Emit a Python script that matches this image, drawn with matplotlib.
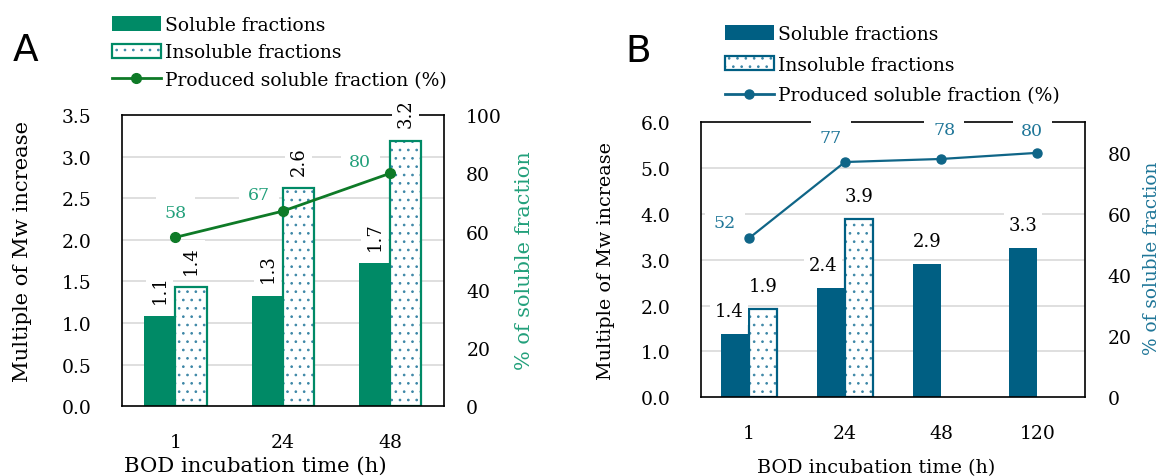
import numpy as np
import matplotlib
matplotlib.use("Agg")
import matplotlib.pyplot as plt
from matplotlib.patches import Patch
from matplotlib.lines import Line2D
from matplotlib.legend_handler import HandlerTuple

# ---------------- data ----------------
cats_a = ["1", "24", "48"]
soluble_a = [1.08, 1.33, 1.72]
insoluble_a = [1.43, 2.62, 3.19]
pct_a = [58, 67, 80]
sol_lbl_a = ["1.1", "1.3", "1.7"]
ins_lbl_a = ["1.4", "2.6", "3.2"]

cats_b = ["1", "24", "48", "120"]
soluble_b = [1.38, 2.39, 2.91, 3.25]
insoluble_b = [1.92, 3.89]          # only first two times measured
pct_b = [52, 77, 78, 80]
sol_lbl_b = ["1.4", "2.4", "2.9", "3.3"]
ins_lbl_b = ["1.9", "3.9"]

W, H = 1161, 477
plt.rcParams['font.family'] = ['DejaVu Serif']
plt.rcParams['hatch.linewidth'] = 0.7
fig = plt.figure(figsize=(W / 100, H / 100), dpi=100)

PX = 0.72  # points per pixel


def fx(x):
    return x / W


def fy(y):
    return 1 - y / H


def panel(rect, cats, sol, ins, pct, sol_lbl, ins_lbl, ylim, yticks, yfmt,
          rlim, rticks, c_bar, c_dot, c_line, c_lbl, line_off, sol_off,
          rotate, lbl_gap, lw_line, ms):
    l, t, r, b = rect
    ax = fig.add_axes([fx(l), fy(b), fx(r - l), (b - t) / H])
    n = len(cats)
    x = np.arange(n)
    w = 0.29
    ax.set_xlim(-0.5, n - 0.5)
    ax.set_ylim(*ylim)
    ax.set_yticks(yticks)
    ax.set_yticklabels([yfmt % v for v in yticks])
    ax.set_xticks(x)
    ax.set_xticklabels(cats)
    ax.set_axisbelow(True)
    for v in yticks[1:-1] if yticks[-1] >= ylim[1] else yticks[1:]:
        ax.axhline(v, color='#D9D9D9', lw=1.2, zorder=0.5)
    for s in ax.spines.values():
        s.set_linewidth(1.2)
        s.set_color('black')
    ax.tick_params(axis='both', length=0, labelsize=13.5)
    ax.tick_params(axis='y', pad=22)
    ax.tick_params(axis='x', pad=19)

    ax.bar(x - w / 2, sol, w, color=c_bar, zorder=2)
    xi = x[:len(ins)] + w / 2
    ax.bar(xi, ins, w, facecolor='white', edgecolor=c_dot, hatch='..',
           linewidth=0, zorder=2)
    ax.bar(xi, ins, w, fill=False, edgecolor=c_bar, linewidth=1.6, zorder=2.1)

    kw = dict(textcoords='offset points', ha='center', va='center',
              fontsize=13, rotation=90 if rotate else 0, zorder=4,
              bbox=dict(boxstyle='square,pad=0.25', fc='white', ec='none'))
    for i, (v, s) in enumerate(zip(sol, sol_lbl)):
        ax.annotate(s, (x[i] - w / 2, v), xytext=(sol_off[i] * PX, lbl_gap * PX), **kw)
    for i, (v, s) in enumerate(zip(ins, ins_lbl)):
        ax.annotate(s, (x[i] + w / 2, v), xytext=(0, lbl_gap * PX), **kw)

    ax2 = ax.twinx()
    ax2.set_ylim(*rlim)
    ax2.set_yticks(rticks)
    ax2.tick_params(axis='y', length=0, labelsize=13.5, pad=16)
    for s in ax2.spines.values():
        s.set_visible(False)
    ax2.plot(x, pct, color=c_line, lw=lw_line, marker='o', ms=ms, zorder=6)
    for i, v in enumerate(pct):
        dx, dy = line_off[i]
        ax2.annotate(str(v), (x[i], v), xytext=(dx * PX, -dy * PX),
                     textcoords='offset points', ha='center', va='center',
                     fontsize=12.5, color=c_lbl, zorder=5,
                     bbox=dict(boxstyle='square,pad=0.5', fc='white', ec='none'))
    return ax, ax2


# ---------------- panel A ----------------
gA, dotA, lineA, lblA = '#008A66', '#3C86A6', '#0E7A27', '#22A07B'
axA, axA2 = panel((121.7, 116, 444, 407.3), cats_a, soluble_a, insoluble_a, pct_a,
                  sol_lbl_a, ins_lbl_a, (0, 3.5), [0, 0.5, 1, 1.5, 2, 2.5, 3, 3.5], '%.1f',
                  (0, 100), [0, 20, 40, 60, 80, 100], gA, dotA, lineA, lblA,
                  [(0, -25), (-24, -17), (-30, -12)], [0, 0, 0], True, 28, 2.0, 7)

# ---------------- panel B ----------------
bB, dotB, lineB, lblB = '#005F83', '#3C86A6', '#0F6587', '#1F7698'
axB, axB2 = panel((700.7, 123.3, 1085.3, 398.3), cats_b, soluble_b, insoluble_b, pct_b,
                  sol_lbl_b, ins_lbl_b, (0, 6), [0, 1, 2, 3, 4, 5, 6], '%.1f',
                  (0, 90), [0, 20, 40, 60, 80], bB, dotB, lineB, lblB,
                  [(-24, -16), (-14, -25), (3, -29), (-5, -22)], [-6, -8, 0, 0],
                  False, 23, 1.6, 6.5)

# ---------------- axis titles ----------------
fig.text(fx(23), fy(252), "Multiple of Mw increase", rotation=90, ha='center',
         va='center', fontsize=15.2)
fig.text(fx(525), fy(261), "% of soluble fraction", rotation=90, ha='center',
         va='center', fontsize=15, color=lblA)
fig.text(fx(255), fy(466), "BOD incubation time (h)", ha='center', va='center',
         fontsize=15.3)

fig.text(fx(606), fy(261), "Multiple of Mw increase", rotation=90, ha='center',
         va='center', fontsize=13.8)
fig.text(fx(1152), fy(258), "% of soluble fraction", rotation=90, ha='center',
         va='center', fontsize=13.3, color=lblB)
fig.text(fx(876), fy(468), "BOD incubation time (h)", ha='center', va='center',
         fontsize=13.8)

# panel letters
fig.text(fx(26), fy(51), "A", ha='center', va='center', fontsize=27,
         family='DejaVu Sans')
fig.text(fx(638), fy(52), "B", ha='center', va='center', fontsize=27,
         family='DejaVu Sans')


# ---------------- legends ----------------
def legend(c_bar, c_dot, c_line, ms, anchor, spacing):
    h1 = Patch(facecolor=c_bar, edgecolor='none')
    h2a = Patch(facecolor='white', edgecolor=c_dot, hatch='..', linewidth=0)
    h2b = Patch(fill=False, edgecolor=c_bar, linewidth=1.6)
    h3 = Line2D([], [], color=c_line, lw=2, marker='o', ms=ms)
    fig.legend([h1, (h2a, h2b), h3],
               ["Soluble fractions", "Insoluble fractions",
                "Produced soluble fraction (%)"],
               handler_map={tuple: HandlerTuple(ndivide=1, pad=0)},
               loc='upper left', bbox_to_anchor=anchor, frameon=False,
               fontsize=13.5, borderpad=0, borderaxespad=0,
               handlelength=2.6, handleheight=0.8, handletextpad=0.25,
               labelspacing=spacing, numpoints=1)


legend(gA, dotA, lineA, 7, (fx(112), fy(17)), 0.5)
legend(bB, dotB, lineB, 6.5, (fx(725), fy(26)), 0.68)

fig.savefig("out.png", dpi=100)
